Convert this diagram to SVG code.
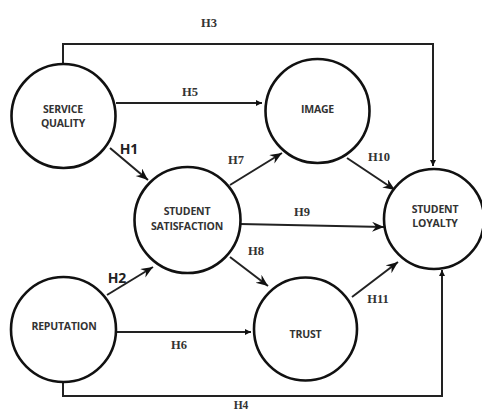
<svg xmlns="http://www.w3.org/2000/svg" width="482" height="414" viewBox="0 0 482 414">
<defs>
<marker id="ah" markerUnits="userSpaceOnUse" markerWidth="14" markerHeight="12" refX="12" refY="5" orient="auto">
<path d="M0,0 L12,5 L0,10 L4,5 z" fill="#111"/>
</marker>
<marker id="as" markerUnits="userSpaceOnUse" markerWidth="8" markerHeight="8" refX="6" refY="3" orient="auto">
<path d="M0,0 L6,3 L0,6 z" fill="#111"/>
</marker>
</defs>
<style>
.node circle{fill:#fff;stroke:#111;stroke-width:2.6}
.node text{font-family:"Open Sans","DejaVu Sans",sans-serif;font-weight:700;font-size:10.5px;fill:#333;text-anchor:middle;letter-spacing:-0.2px}
.c{fill:none;stroke:#222;stroke-width:2}
.lbl{font-family:"Liberation Serif","DejaVu Serif",serif;font-weight:700;font-size:12.5px;fill:#333;text-anchor:middle}
.big{font-family:"Open Sans","DejaVu Sans",sans-serif;font-weight:700;font-size:14px;fill:#222;text-anchor:middle}
</style>
<rect width="482" height="414" fill="#fff"/>
<g id="connectors">
<path class="c" d="M63,63 V44 H433 V166" marker-end="url(#as)"/>
<path class="c" d="M63,382 V396 H442 V270" marker-end="url(#as)"/>
<path class="c" d="M116,103 H262" marker-end="url(#as)"/>
<path class="c" d="M117,332 H251" marker-end="url(#as)"/>
<path class="c" d="M110,148 L148,180" marker-end="url(#ah)"/>
<path class="c" d="M107,295 L153,267" marker-end="url(#ah)"/>
<path class="c" d="M230,185 L282,153" marker-end="url(#ah)"/>
<path class="c" d="M347,158 L395,190" marker-end="url(#ah)"/>
<path class="c" d="M240,224 L384,227" marker-end="url(#ah)"/>
<path class="c" d="M230,257 L268,286" marker-end="url(#ah)"/>
<path class="c" d="M352,297 L398,262" marker-end="url(#ah)"/>
<text class="lbl" x="209" y="27">H3</text>
<text class="lbl" x="190" y="96">H5</text>
<text class="big" x="129" y="154">H1</text>
<text class="lbl" x="236" y="164">H7</text>
<text class="lbl" x="379" y="161">H10</text>
<text class="lbl" x="302" y="216">H9</text>
<text class="lbl" x="256" y="255">H8</text>
<text class="big" x="117" y="283">H2</text>
<text class="lbl" x="179" y="349">H6</text>
<text class="lbl" x="378" y="303">H11</text>
<text class="lbl" x="241" y="409" style="font-size:11.5px">H4</text>
</g>
<g id="service-quality" class="node"><circle cx="63.5" cy="116" r="52"/><text x="63" y="113">SERVICE</text><text x="63" y="127">QUALITY</text></g>
<g id="image" class="node"><circle cx="317.5" cy="111" r="52"/><text x="317.5" y="113">IMAGE</text></g>
<g id="student-satisfaction" class="node"><circle cx="187.5" cy="220" r="53"/><text x="187" y="215">STUDENT</text><text x="187" y="230">SATISFACTION</text></g>
<g id="student-loyalty" class="node"><circle cx="434" cy="219" r="50"/><text x="435" y="213">STUDENT</text><text x="435" y="227">LOYALTY</text></g>
<g id="reputation" class="node"><circle cx="63.5" cy="329.5" r="52.5"/><text x="64" y="330">REPUTATION</text></g>
<g id="trust" class="node"><circle cx="305.5" cy="329" r="51.5"/><text x="305.5" y="338">TRUST</text></g>
</svg>
